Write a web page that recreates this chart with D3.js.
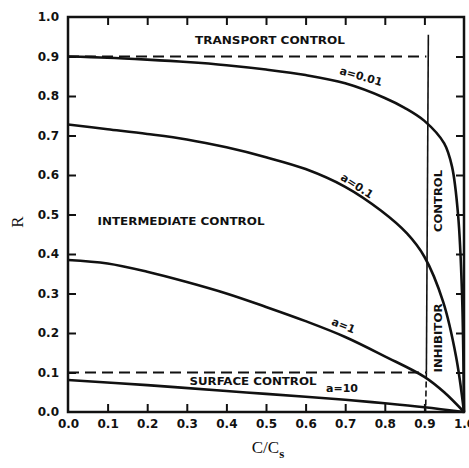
<!DOCTYPE html>
<html>
<head>
<meta charset="utf-8">
<script src="https://cdn.jsdelivr.net/npm/d3@7"></script>
<style>
  html, body { margin: 0; padding: 0; background: #fff; }
  svg { display: block; }
  .lbl { font-family: "DejaVu Sans", sans-serif; font-weight: bold; fill: #111; }
</style>
</head>
<body>
<svg id="chart" width="469" height="468"></svg>
<script>
// Fraction of saturation C/Cs and rate ratio R for each value of a
const xTicks = [0, 0.1, 0.2, 0.3, 0.4, 0.5, 0.6, 0.7, 0.8, 0.9, 1.0];
const yTicks = [0, 0.1, 0.2, 0.3, 0.4, 0.5, 0.6, 0.7, 0.8, 0.9, 1.0];

const xA001 = [0, 0.1, 0.2, 0.3, 0.4, 0.5, 0.6, 0.7, 0.8, 0.85, 0.9, 0.95, 0.97, 0.985, 0.995, 1.0];
const rA001 = [0.900, 0.897, 0.892, 0.886, 0.878, 0.867, 0.853, 0.832, 0.795, 0.77, 0.737, 0.68, 0.62, 0.50, 0.30, 0.0];

const xA01 = [0, 0.1, 0.2, 0.3, 0.4, 0.5, 0.6, 0.7, 0.79, 0.856, 0.9, 0.947, 0.98, 1.0];
const rA01 = [0.728, 0.716, 0.704, 0.69, 0.67, 0.645, 0.615, 0.57, 0.51, 0.452, 0.393, 0.28, 0.14, 0.0];

const xA1 = [0, 0.1, 0.2, 0.3, 0.4, 0.5, 0.6, 0.7, 0.8, 0.9, 0.95, 1.0];
const rA1 = [0.385, 0.376, 0.355, 0.329, 0.300, 0.266, 0.23, 0.19, 0.141, 0.089, 0.05, 0.0];

const xA10 = [0, 0.2, 0.4, 0.5, 0.7, 0.8, 0.9, 1.0];
const rA10 = [0.081, 0.068, 0.053, 0.046, 0.031, 0.022, 0.012, 0.0];

const curveNames = ["a=0.01", "a=0.1", "a=1", "a=10"];

// Regime boundaries
const transportLimit = 0.9;
const surfaceLimit = 0.1;
const inhibitorLimit = 0.905;

const svg = d3.select("#chart");
const margin = { left: 68, right: 5, top: 17, bottom: 56 };
const W = 469, H = 468;

const x = d3.scaleLinear().domain([0, 1]).range([margin.left, W - margin.right]);
const y = d3.scaleLinear().domain([0, 1]).range([H - margin.bottom, margin.top]);

const ink = "#111";
const inner = xTicks.slice(1, -1);

// Axes with inward ticks
const gB = svg.append("g").attr("transform", `translate(0,${y(0)})`)
  .call(d3.axisBottom(x).tickValues(xTicks).tickFormat(d3.format(".1f")).tickSize(0).tickPadding(7));
const gL = svg.append("g").attr("transform", `translate(${x(0)},0)`)
  .call(d3.axisLeft(y).tickValues(yTicks).tickFormat(d3.format(".1f")).tickSize(0).tickPadding(9));
[gB, gL].forEach(g => {
  g.select(".domain").remove();
  g.selectAll("text").attr("class", "lbl").style("font-size", "12px").attr("fill", ink);
});

svg.append("g").attr("transform", `translate(0,${y(0)})`)
  .call(d3.axisBottom(x).tickValues(inner).tickFormat("").tickSize(-8))
  .call(g => g.select(".domain").remove());
svg.append("g").attr("transform", `translate(0,${y(1)})`)
  .call(d3.axisTop(x).tickValues(inner).tickFormat("").tickSize(-8))
  .call(g => g.select(".domain").remove());
svg.append("g").attr("transform", `translate(${x(0)},0)`)
  .call(d3.axisLeft(y).tickValues(inner).tickFormat("").tickSize(-8))
  .call(g => g.select(".domain").remove());
svg.append("g").attr("transform", `translate(${x(1)},0)`)
  .call(d3.axisRight(y).tickValues(inner).tickFormat("").tickSize(-8))
  .call(g => g.select(".domain").remove());
svg.selectAll(".tick line").attr("stroke", ink).attr("stroke-width", 2);

// Frame
svg.append("rect")
  .attr("x", x(0)).attr("y", y(1))
  .attr("width", x(1) - x(0)).attr("height", y(0) - y(1))
  .attr("fill", "none").attr("stroke", ink).attr("stroke-width", 2.5);

// Regime boundaries
svg.append("line")
  .attr("x1", x(0)).attr("x2", x(inhibitorLimit))
  .attr("y1", y(transportLimit)).attr("y2", y(transportLimit))
  .attr("stroke", ink).attr("stroke-width", 2).attr("stroke-dasharray", "11,6");
svg.append("line")
  .attr("x1", x(0)).attr("x2", x(inhibitorLimit))
  .attr("y1", y(surfaceLimit)).attr("y2", y(surfaceLimit))
  .attr("stroke", ink).attr("stroke-width", 2).attr("stroke-dasharray", "11,6");
svg.append("line")
  .attr("x1", x(inhibitorLimit + 0.005)).attr("x2", x(inhibitorLimit))
  .attr("y1", y(0.955)).attr("y2", y(surfaceLimit))
  .attr("stroke", ink).attr("stroke-width", 1.6);
svg.append("line")
  .attr("x1", x(inhibitorLimit)).attr("x2", x(inhibitorLimit - 0.002))
  .attr("y1", y(surfaceLimit)).attr("y2", y(0))
  .attr("stroke", ink).attr("stroke-width", 1.6).attr("stroke-dasharray", "6,3");

// Curves
const line = d3.line().x(d => x(d[0])).y(d => y(d[1])).curve(d3.curveCatmullRom.alpha(0.5));
const series = [[xA001, rA001], [xA01, rA01], [xA1, rA1], [xA10, rA10]];
series.forEach(([xs, rs]) => {
  svg.append("path")
    .datum(xs.map((v, i) => [v, rs[i]]))
    .attr("d", line)
    .attr("fill", "none").attr("stroke", ink).attr("stroke-width", 2.6)
    .attr("stroke-linejoin", "round");
});

// Curve labels
const curveLabelPos = [[360, 80, 16], [355, 189, 33], [342, 329, 22], [342, 392, 0]];
curveNames.forEach((t, i) => {
  const [px, py, rot] = curveLabelPos[i];
  svg.append("text").attr("class", "lbl")
    .attr("transform", `translate(${px},${py}) rotate(${rot})`)
    .attr("text-anchor", "middle").style("font-size", "11px")
    .text(t);
});

// Regime labels
const region = (t, px, py, rot, w) => {
  svg.append("text").attr("class", "lbl")
    .attr("transform", `translate(${px},${py}) rotate(${rot})`)
    .attr("text-anchor", "middle").attr("dy", "0.35em")
    .attr("textLength", w).attr("lengthAdjust", "spacingAndGlyphs")
    .style("font-size", "11px")
    .text(t);
};
region("TRANSPORT CONTROL", 270, 40, 0, 150);
region("INTERMEDIATE CONTROL", 181, 221, 0, 167);
region("SURFACE CONTROL", 253, 381, 0, 127);
region("CONTROL", 438, 201, -90, 62);
region("INHIBITOR", 438, 338, -90, 69);

// Axis titles
svg.append("text")
  .attr("transform", "translate(23,222) rotate(-90)")
  .attr("text-anchor", "middle")
  .style("font-family", "'Liberation Serif', serif").style("font-size", "17px")
  .attr("fill", ink)
  .text("R");
const xt = svg.append("text")
  .attr("x", 268).attr("y", 453)
  .attr("text-anchor", "middle")
  .style("font-family", "'Liberation Serif', serif").style("font-size", "17px")
  .attr("fill", ink);
xt.append("tspan").text("C/C");
xt.append("tspan").attr("dy", 5).style("font-size", "13px").style("font-weight", "bold").text("s");
</script>
</body>
</html>
